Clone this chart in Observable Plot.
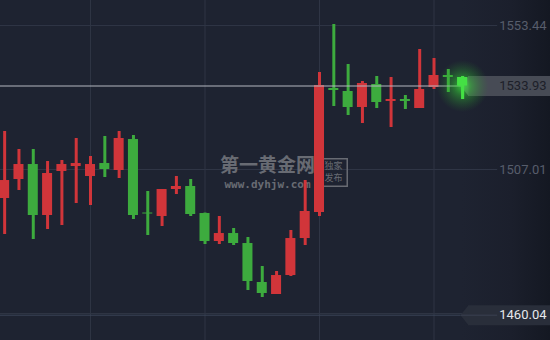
<!DOCTYPE html>
<html>
<head>
<meta charset="utf-8">
<script src="https://cdn.jsdelivr.net/npm/d3@7"></script>
<script src="https://cdn.jsdelivr.net/npm/@observablehq/plot@0.6"></script>
<style>
html,body{margin:0;padding:0;}
#chart{width:550px;height:340px;background:linear-gradient(to right,#1e2331 0%,#1e2331 84%,#1b1f2c 93%,#141822 100%);overflow:hidden;}
svg{display:block;}
</style>
</head>
<body>
<div id="chart"></div>
<script>
// Candle data (index order, oldest -> newest)
const opens  = [1497.66,1503.79,1508.62,1492.18,1506.37,1507.98,1504.75,1508.94,1506.69,1516.68,1492.98,1491.86,1500.56,1501.53,1492.82,1483.80,1486.37,1483.15,1470.58,1466.71,1472.83,1484.76,1493.15,1533.13,1532.16,1527.00,1534.42,1528.94,1529.58,1526.68,1533.45,1537.32,1536.67];
const highs  = [1519.26,1513.46,1513.46,1509.59,1509.91,1517.01,1511.20,1517.65,1519.26,1517.97,1499.92,1500.56,1504.75,1503.79,1492.98,1491.86,1487.99,1485.08,1475.73,1474.12,1487.34,1503.46,1538.29,1553.76,1540.87,1535.38,1537.00,1536.67,1530.87,1545.70,1542.80,1539.25,1537.00];
const lows   = [1486.05,1500.24,1484.44,1487.66,1488.95,1496.05,1495.40,1504.43,1504.11,1490.89,1485.73,1488.63,1498.95,1491.86,1482.83,1482.83,1482.51,1468.00,1465.74,1466.71,1472.51,1482.51,1491.86,1527.32,1524.42,1521.84,1526.68,1520.55,1526.36,1526.68,1532.80,1531.84,1529.58];
const closes = [1503.46,1508.62,1492.18,1505.72,1508.62,1508.94,1508.62,1507.01,1517.01,1492.18,1492.66,1500.56,1501.53,1492.50,1483.80,1486.37,1483.15,1470.90,1467.03,1472.83,1484.76,1493.47,1534.09,1532.48,1527.00,1534.74,1528.61,1529.58,1528.94,1532.80,1537.32,1536.67,1533.93];

const gridTicks = [1553.44, 1507.01, 1460.58];
const tickLabels = ["1553.44", "1507.01"];
const vGridIdx = [6, 14, 22, 30];
const lastPrice = 1533.93;
const lowTag = 1460.04;

const UP = "#d1353a", DOWN = "#3dab3e";
const data = opens.map((o, i) => ({i, open: o, high: highs[i], low: lows[i], close: closes[i]}));
const ups = data.filter(d => d.close >= d.open);
const downs = data.filter(d => d.close < d.open);
const last = data[data.length - 1];

const chevron = {draw(ctx){ ctx.moveTo(-8,0); ctx.lineTo(0,-10); ctx.lineTo(0,10); ctx.closePath(); }};
const WM = "#686b73";

const plot = Plot.plot({
  width: 550, height: 340,
  margin: 0,
  x: {domain: [-0.29, 38.14], axis: null},
  y: {domain: [1451.88, 1561.50], axis: null},
  style: {background: "transparent", overflow: "visible"},
  marks: [
    // grid
    Plot.ruleY(gridTicks.slice(0,2), {x1: -0.29, x2: 34.45, stroke: "#2f3545", strokeWidth: 1}),
    Plot.ruleY(gridTicks.slice(2), {x1: -0.29, x2: 38.14, stroke: "#2f3545", strokeWidth: 1}),
    Plot.ruleX(vGridIdx, {stroke: "#2f3545", strokeWidth: 1}),
    // low tag line
    Plot.ruleY([lowTag], {x1: -0.29, x2: 31.9, stroke: "#3a4558", strokeWidth: 1}),
    // watermark
    Plot.text(["第一黄金网"], {frameAnchor: "middle", dx: -8, dy: -5, fontSize: 19, fontWeight: "bold", fill: WM, fontFamily: "Noto Sans CJK SC"}),
    Plot.text(["www.dyhjw.com"], {frameAnchor: "middle", dx: -8, dy: 14, fontSize: 11, fontWeight: "bold", fill: WM, fontFamily: "DejaVu Sans Mono"}),
    Plot.dot([0], {frameAnchor: "middle", dx: 58, dy: 2, symbol: "square", r: 15.5, stroke: WM, strokeWidth: 1.5, fill: "none"}),
    Plot.text(["独家"], {frameAnchor: "middle", dx: 58, dy: -4.5, fontSize: 9, fill: WM, fontFamily: "Noto Sans CJK SC"}),
    Plot.text(["发布"], {frameAnchor: "middle", dx: 58, dy: 7.5, fontSize: 9, fill: WM, fontFamily: "Noto Sans CJK SC"}),
    // wicks
    Plot.ruleX(ups, {x: "i", y1: "low", y2: "high", stroke: UP, strokeWidth: 3}),
    Plot.ruleX(downs, {x: "i", y1: "low", y2: "high", stroke: DOWN, strokeWidth: 3}),
    // bodies
    Plot.rect(ups, {x1: d => d.i - 0.35, x2: d => d.i + 0.35, y1: "open", y2: "close", fill: UP}),
    Plot.rect(downs, {x1: d => d.i - 0.35, x2: d => d.i + 0.35, y1: "open", y2: "close", fill: DOWN}),
    // last price line
    Plot.ruleY([lastPrice], {x1: -0.29, x2: 32.4, stroke: "#b4b8c0", strokeWidth: 1}),
    // last price tag
    Plot.ruleY([lastPrice], {x1: 32.41, x2: 38.14, stroke: "#474b55", strokeWidth: 20}),
    Plot.dot([lastPrice], {x: 32.41, y: d => d, symbol: chevron, r: 5, fill: "#565a63", stroke: "none"}),
    // glow on last candle
    Plot.dot([last], {x: "i", y: "close", r: 26, fill: "url(#glowGrad)", stroke: "none"}),
    Plot.ruleX([last], {x: "i", y1: "low", y2: "high", stroke: "#44e044", strokeWidth: 3}),
    Plot.rect([last], {x1: d => d.i - 0.35, x2: d => d.i + 0.35, y1: "open", y2: "close", fill: "#44e044"}),
    Plot.text([lastPrice], {y: d => d, frameAnchor: "right", dx: -4, text: d => d.toFixed(2), fill: "#1d2029", fontSize: 13, fontFamily: "Roboto", textAnchor: "end"}),
    // low tag
    Plot.ruleY([lowTag], {x1: 32.41, x2: 38.14, stroke: "#292e3a", strokeWidth: 20}),
    Plot.dot([lowTag], {x: 32.41, y: d => d, symbol: chevron, r: 5, fill: "#292e3a", stroke: "none"}),
    Plot.ruleY([lowTag], {x1: 31.9, x2: 34.45, stroke: "#3a4150", strokeWidth: 1}),
    Plot.text([lowTag], {y: d => d, frameAnchor: "right", dx: -4, text: d => d.toFixed(2), fill: "#e6e8ec", fontSize: 13, fontFamily: "Roboto", textAnchor: "end"}),
    // axis labels
    Plot.text(tickLabels, {y: (d) => +d, frameAnchor: "right", dx: -4, text: d => d, fill: "#575d6b", fontSize: 13, fontFamily: "Roboto", textAnchor: "end"})
  ]
});

const svg = d3.select(plot);
const defs = svg.insert("defs", ":first-child");
const g = defs.append("radialGradient").attr("id", "glowGrad");
g.append("stop").attr("offset", "0%").attr("stop-color", "#3dff3d").attr("stop-opacity", 0.75);
g.append("stop").attr("offset", "35%").attr("stop-color", "#35d035").attr("stop-opacity", 0.45);
g.append("stop").attr("offset", "100%").attr("stop-color", "#2a8a2a").attr("stop-opacity", 0);

document.getElementById("chart").appendChild(plot);
</script>
</body>
</html>
